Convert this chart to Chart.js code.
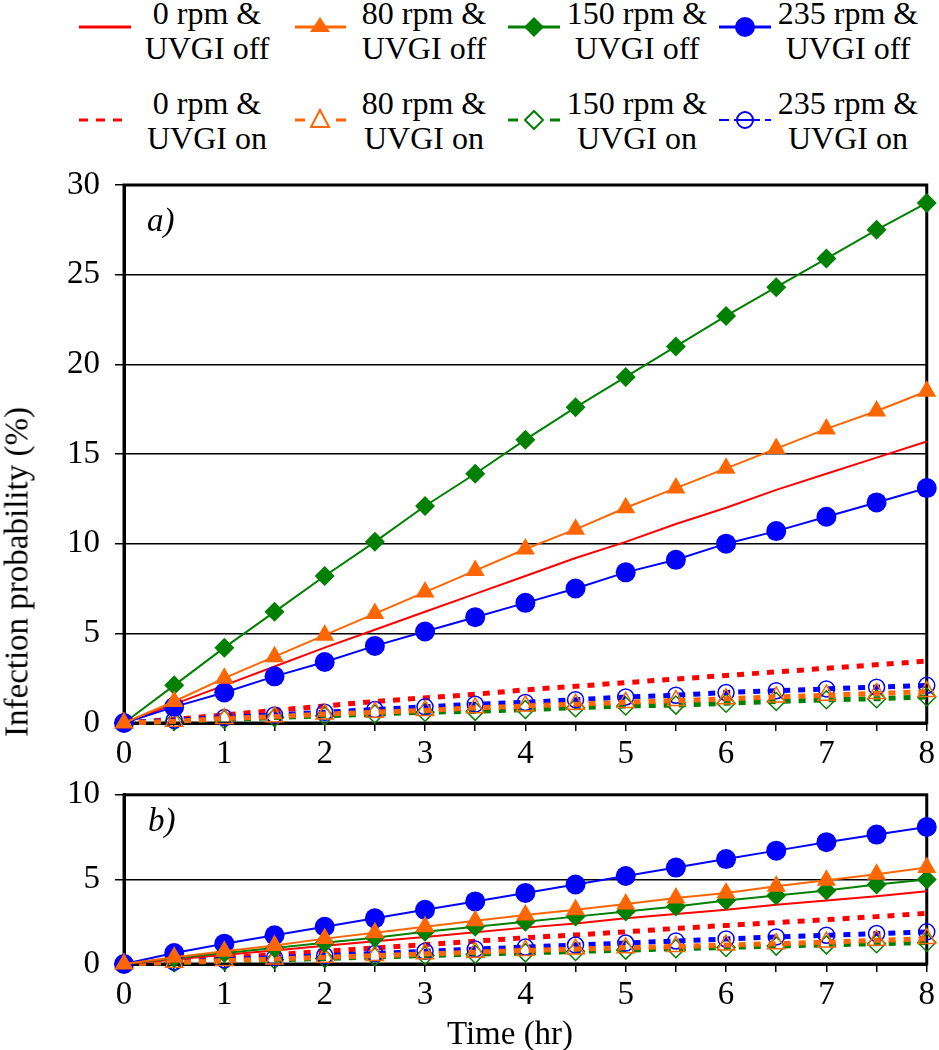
<!DOCTYPE html>
<html lang="en">
<head>
  <meta charset="UTF-8" />
  <title>Infection probability vs time</title>
  <script src="https://cdn.jsdelivr.net/npm/chart.js"></script>
  <style>
    body {
      margin: 0;
      background: #fff;
      color: #000;
      font-family: 'Liberation Serif', 'Times New Roman', serif;
    }
    #page {
      position: relative;
      width: 939px;
      height: 1050px;
      overflow: hidden;
    }
    canvas {
      position: absolute;
      left: 0;
    }
    #chartA { top: 150px; }
    #chartB { top: 760px; }
    .leg-text {
      position: absolute;
      width: 170px;
      font-size: 32px;
      line-height: 35px;
      text-align: center;
      white-space: nowrap;
    }
    .leg-mark {
      position: absolute;
      width: 60px;
      height: 30px;
    }
    .label {
      position: absolute;
      font-size: 33px;
      white-space: nowrap;
    }
    #ytitle {
      left: 17px;
      top: 572px;
      transform: translate(-50%, -50%) rotate(-90deg);
    }
    #xtitle {
      left: 510px;
      top: 1033px;
      transform: translate(-50%, -50%);
    }
    .panel { font-style: italic; }
  </style>
</head>
<body>
<div id="page">
  <!-- legend, two rows of four -->
  <svg class="leg-mark" style="left:77px; top:12px"><line x1="2" y1="15" x2="54" y2="15" stroke="#ff0000" stroke-width="3"/></svg>
  <div class="leg-text" style="left:122px; top:-4px">0 rpm &amp;<br>UVGI off</div>

  <svg class="leg-mark" style="left:293px; top:12px"><line x1="2" y1="15" x2="53" y2="15" stroke="#ff6600" stroke-width="3"/><polygon points="27,5 37,20 17,20" fill="#ff6600"/></svg>
  <div class="leg-text" style="left:339px; top:-4px">80 rpm &amp;<br>UVGI off</div>

  <svg class="leg-mark" style="left:506px; top:12px"><line x1="2" y1="15" x2="54" y2="15" stroke="#008000" stroke-width="3"/><polygon points="28,5 38,15 28,25 18,15" fill="#008000"/></svg>
  <div class="leg-text" style="left:552px; top:-4px">150 rpm &amp;<br>UVGI off</div>

  <svg class="leg-mark" style="left:717px; top:12px"><line x1="2" y1="15" x2="54" y2="15" stroke="#0000ff" stroke-width="3"/><circle cx="28" cy="15" r="10" fill="#0000ff"/></svg>
  <div class="leg-text" style="left:763px; top:-4px">235 rpm &amp;<br>UVGI off</div>

  <svg class="leg-mark" style="left:77px; top:105px"><line x1="2" y1="15" x2="46" y2="15" stroke="#ff0000" stroke-width="3" stroke-dasharray="9 8"/></svg>
  <div class="leg-text" style="left:122px; top:86px">0 rpm &amp;<br>UVGI on</div>

  <svg class="leg-mark" style="left:293px; top:105px"><line x1="2" y1="15" x2="53" y2="15" stroke="#ff6600" stroke-width="3" stroke-dasharray="10 31"/><polygon points="27,5 36,22 18,22" fill="none" stroke="#ff6600" stroke-width="2"/></svg>
  <div class="leg-text" style="left:339px; top:86px">80 rpm &amp;<br>UVGI on</div>

  <svg class="leg-mark" style="left:506px; top:105px"><line x1="2" y1="15" x2="54" y2="15" stroke="#008000" stroke-width="3" stroke-dasharray="10 32"/><polygon points="28,6 37,15 28,24 19,15" fill="none" stroke="#008000" stroke-width="2"/></svg>
  <div class="leg-text" style="left:552px; top:86px">150 rpm &amp;<br>UVGI on</div>

  <svg class="leg-mark" style="left:717px; top:105px"><line x1="2" y1="15" x2="54" y2="15" stroke="#0000ff" stroke-width="2" stroke-dasharray="10 5 26 5"/><circle cx="28" cy="15" r="8" fill="none" stroke="#0000ff" stroke-width="2"/></svg>
  <div class="leg-text" style="left:763px; top:86px">235 rpm &amp;<br>UVGI on</div>

  <canvas id="chartA" width="939" height="640"></canvas>
  <canvas id="chartB" width="939" height="290"></canvas>

  <div class="label panel" style="left:147px; top:202px">a)</div>
  <div class="label panel" style="left:148px; top:802px">b)</div>
  <div class="label" id="ytitle">Infection probability (%)</div>
  <div class="label" id="xtitle">Time (hr)</div>
</div>

<script>
  // time in hours, every half hour
  const hours = [0, 0.5, 1, 1.5, 2, 2.5, 3, 3.5, 4, 4.5, 5, 5.5, 6, 6.5, 7, 7.5, 8];

  // panel a) - UVGI off
  const aRpm0Off   = [0, 1.05, 2.1, 3.15, 4.2, 5.2, 6.2, 7.2, 8.2, 9.2, 10.1, 11.1, 12.0, 13.0, 13.9, 14.8, 15.7];
  const aRpm80Off  = [0, 1.2, 2.5, 3.7, 4.9, 6.1, 7.3, 8.5, 9.7, 10.8, 12.0, 13.1, 14.2, 15.3, 16.4, 17.4, 18.5];
  const aRpm150Off = [0, 2.1, 4.2, 6.2, 8.2, 10.1, 12.1, 13.9, 15.8, 17.6, 19.3, 21.0, 22.7, 24.3, 25.9, 27.5, 29.0];
  const aRpm235Off = [0, 0.9, 1.7, 2.6, 3.4, 4.3, 5.1, 5.9, 6.7, 7.5, 8.4, 9.1, 10.0, 10.7, 11.5, 12.3, 13.1];
  // panel a) - UVGI on
  const aRpm0On    = [0, 0.2, 0.45, 0.7, 0.95, 1.2, 1.4, 1.6, 1.85, 2.05, 2.25, 2.45, 2.65, 2.85, 3.05, 3.25, 3.45];
  const aRpm80On   = [0, 0.1, 0.25, 0.35, 0.5, 0.6, 0.7, 0.85, 0.95, 1.05, 1.15, 1.25, 1.35, 1.45, 1.55, 1.65, 1.75];
  const aRpm150On  = [0, 0.1, 0.2, 0.3, 0.4, 0.5, 0.6, 0.65, 0.75, 0.85, 0.95, 1.0, 1.1, 1.2, 1.3, 1.35, 1.45];
  const aRpm235On  = [0, 0.15, 0.3, 0.45, 0.6, 0.75, 0.9, 1.05, 1.15, 1.3, 1.45, 1.55, 1.7, 1.8, 1.9, 2.0, 2.1];

  // panel b) - UVGI off
  const bRpm0Off   = [0, 0.27, 0.55, 0.8, 1.08, 1.35, 1.6, 1.88, 2.15, 2.4, 2.7, 2.95, 3.2, 3.5, 3.75, 4.0, 4.3];
  const bRpm80Off  = [0, 0.4, 0.75, 1.1, 1.5, 1.85, 2.2, 2.55, 2.9, 3.2, 3.55, 3.9, 4.2, 4.6, 4.95, 5.3, 5.7];
  const bRpm150Off = [0, 0.35, 0.65, 0.95, 1.25, 1.55, 1.9, 2.2, 2.5, 2.8, 3.1, 3.4, 3.75, 4.05, 4.35, 4.7, 5.0];
  const bRpm235Off = [0, 0.65, 1.2, 1.7, 2.2, 2.7, 3.2, 3.7, 4.2, 4.7, 5.2, 5.7, 6.2, 6.7, 7.2, 7.65, 8.1];
  // panel b) - UVGI on
  const bRpm0On    = [0, 0.15, 0.35, 0.55, 0.75, 0.95, 1.15, 1.35, 1.55, 1.72, 1.9, 2.1, 2.28, 2.45, 2.62, 2.8, 3.0];
  const bRpm80On   = [0, 0.1, 0.2, 0.3, 0.4, 0.5, 0.6, 0.7, 0.8, 0.88, 0.96, 1.04, 1.12, 1.2, 1.3, 1.4, 1.5];
  const bRpm150On  = [0, 0.08, 0.17, 0.25, 0.33, 0.42, 0.5, 0.58, 0.66, 0.74, 0.82, 0.9, 0.98, 1.06, 1.13, 1.2, 1.27];
  const bRpm235On  = [0, 0.12, 0.25, 0.38, 0.5, 0.62, 0.75, 0.88, 1.0, 1.12, 1.24, 1.36, 1.48, 1.6, 1.7, 1.8, 1.9];

  const RED = "#ff0000", ORANGE = "#ff6600", GREEN = "#008000", BLUE = "#0000ff";
  const FONT = "'Liberation Serif', 'Times New Roman', serif";

  const pts = vals => vals.map((v, i) => ({ x: hours[i], y: v }));

  function solid(vals, color, pointStyle, radius) {
    return {
      data: pts(vals),
      borderColor: color,
      backgroundColor: color,
      borderWidth: 2,
      pointStyle: pointStyle || "circle",
      pointRadius: pointStyle ? radius : 0,
      pointBorderWidth: 0,
      pointBackgroundColor: color,
      tension: 0,
      clip: false
    };
  }

  function dashed(vals, color, pointStyle, radius) {
    return {
      data: pts(vals),
      borderColor: color,
      backgroundColor: "rgba(0,0,0,0)",
      borderWidth: 5,
      borderDash: [7, 8],
      pointStyle: pointStyle || "circle",
      pointRadius: pointStyle ? radius : 0,
      pointBorderColor: color,
      pointBorderWidth: 1.5,
      pointBackgroundColor: "rgba(0,0,0,0)",
      tension: 0,
      clip: false
    };
  }

  // black frame round the plot area (top and right sides)
  const framePlugin = {
    id: "frame",
    beforeDatasetsDraw(chart) {
      const a = chart.chartArea, ctx = chart.ctx;
      ctx.save();
      ctx.strokeStyle = "#000";
      ctx.lineWidth = 3;
      ctx.strokeRect(a.left, a.top, a.right - a.left, a.bottom - a.top);
      ctx.restore();
    }
  };

  function makeChart(id, sets, yMax, padding) {
    const on = sets.on, off = sets.off;
    return new Chart(document.getElementById(id), {
      type: "line",
      data: {
        datasets: [
          solid(off[1], ORANGE, "triangle", 11),
          solid(off[3], BLUE, "circle", 10),
          solid(off[2], GREEN, "rectRot", 10),
          solid(off[0], RED),
          dashed(on[1], ORANGE, "triangle", 10),
          dashed(on[3], BLUE, "circle", 8),
          dashed(on[2], GREEN, "rectRot", 9),
          dashed(on[0], RED)
        ]
      },
      options: {
        responsive: false,
        animation: false,
        layout: { padding },
        plugins: { legend: { display: false }, tooltip: { enabled: false } },
        scales: {
          x: {
            type: "linear",
            min: 0,
            max: 8,
            afterFit: s => { s.height = 67; },
            border: { display: true, color: "#000", width: 3 },
            grid: { drawOnChartArea: false, color: "#000", lineWidth: 1.5, tickLength: 8 },
            ticks: {
              stepSize: 0.5,
              autoSkip: false,
              maxRotation: 0,
              padding: 4,
              color: "#000",
              font: { family: FONT, size: 33 },
              callback: v => Number.isInteger(v) ? v : ""
            }
          },
          y: {
            min: 0,
            max: yMax,
            afterFit: s => { s.width = 124; },
            border: { display: true, color: "#000", width: 3 },
            grid: { color: "#000", lineWidth: 1.5, tickLength: 9 },
            ticks: {
              stepSize: 5,
              padding: 15,
              color: "#000",
              font: { family: FONT, size: 33 }
            }
          }
        }
      },
      plugins: [framePlugin]
    });
  }

  makeChart("chartA", {
    off: [aRpm0Off, aRpm80Off, aRpm150Off, aRpm235Off],
    on: [aRpm0On, aRpm80On, aRpm150On, aRpm235On]
  }, 30, { top: 35, right: 12, bottom: 0, left: 0 });

  makeChart("chartB", {
    off: [bRpm0Off, bRpm80Off, bRpm150Off, bRpm235Off],
    on: [bRpm0On, bRpm80On, bRpm150On, bRpm235On]
  }, 10, { top: 26, right: 12, bottom: 19, left: 0 });
</script>
</body>
</html>
